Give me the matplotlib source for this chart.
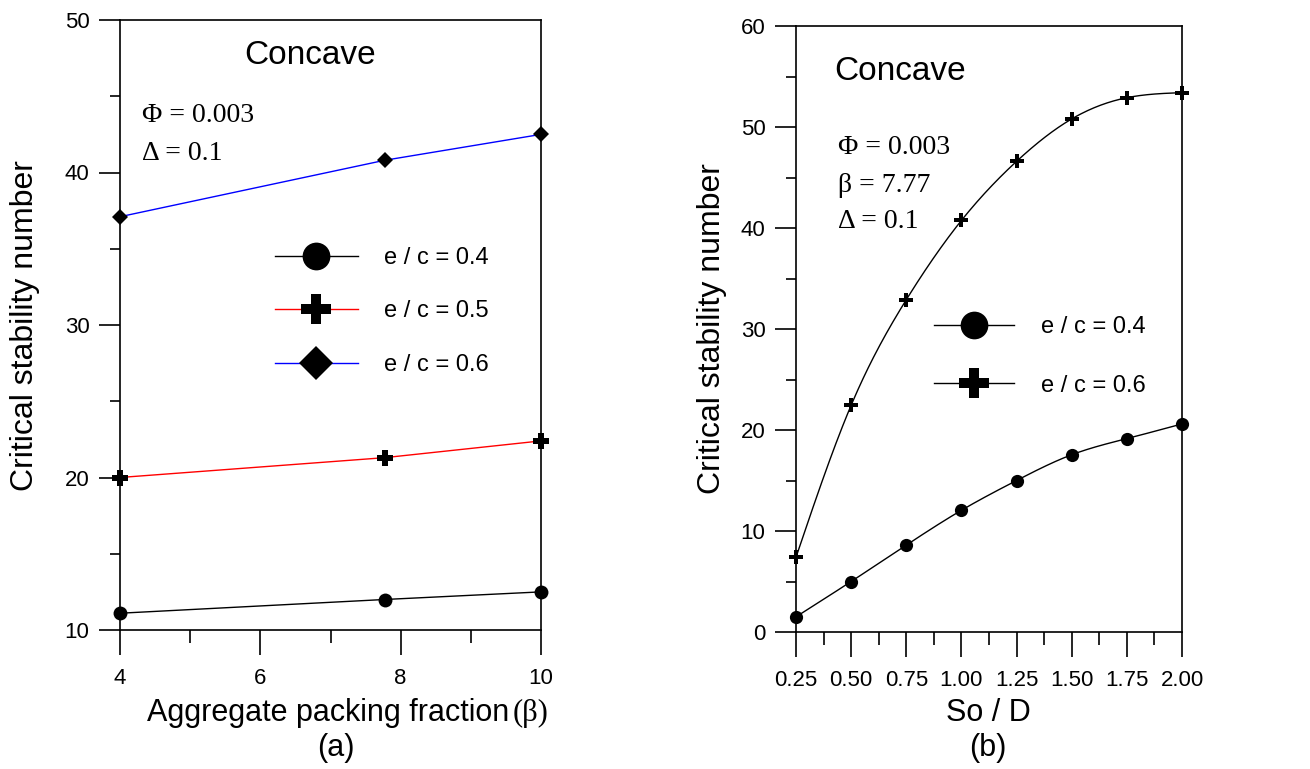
import numpy as np
import matplotlib
matplotlib.use('Agg')
import matplotlib.pyplot as plt
from matplotlib.ticker import MultipleLocator, FormatStrFormatter
from matplotlib.legend_handler import HandlerTuple

# ---------------- data ----------------
beta = [4, 7.77, 10]
left_ec04 = [11.1, 12.0, 12.5]
left_ec05 = [20.0, 21.3, 22.4]
left_ec06 = [37.1, 40.8, 42.5]
left_labels = ['e / c = 0.4', 'e / c = 0.5', 'e / c = 0.6']

so_d = [0.25, 0.50, 0.75, 1.00, 1.25, 1.50, 1.75, 2.00]
right_ec04 = [1.5, 5.0, 8.6, 12.05, 15.0, 17.55, 19.15, 20.6]
right_ec06 = [7.4, 22.45, 32.9, 40.75, 46.6, 50.8, 52.9, 53.4]
right_labels = ['e / c = 0.4', 'e / c = 0.6']

SANS = ['Liberation Sans', 'DejaVu Sans']
NARROW = ['Liberation Sans Narrow', 'Liberation Sans', 'DejaVu Sans']
SERIF = ['Liberation Serif', 'DejaVu Serif']

W, H = 1310, 769
fig = plt.figure(figsize=(W / 100, H / 100), dpi=100)


def px(x, y):
    return x / W, 1 - y / H


def natural_spline(x, y, n=300):
    x = np.asarray(x, float)
    y = np.asarray(y, float)
    m = len(x)
    h = np.diff(x)
    A = np.zeros((m, m))
    r = np.zeros(m)
    A[0, 0] = A[-1, -1] = 1
    for i in range(1, m - 1):
        A[i, i - 1] = h[i - 1]
        A[i, i] = 2 * (h[i - 1] + h[i])
        A[i, i + 1] = h[i]
        r[i] = 3 * ((y[i + 1] - y[i]) / h[i] - (y[i] - y[i - 1]) / h[i - 1])
    c = np.linalg.solve(A, r)
    b = (y[1:] - y[:-1]) / h - h * (2 * c[:-1] + c[1:]) / 3
    d = (c[1:] - c[:-1]) / (3 * h)
    xs = np.linspace(x[0], x[-1], n)
    idx = np.clip(np.searchsorted(x, xs, side='right') - 1, 0, m - 2)
    dx = xs - x[idx]
    ys = y[idx] + b[idx] * dx + c[idx] * dx ** 2 + d[idx] * dx ** 3
    return xs, ys


def style_axes(ax):
    for s in ax.spines.values():
        s.set_linewidth(1.2)
    ax.tick_params(axis='y', which='major', direction='out', length=15, width=1.2, pad=7)
    ax.tick_params(axis='y', which='minor', direction='out', length=7.5, width=1.2)
    ax.tick_params(axis='x', which='major', direction='out', length=18, width=1.2, pad=9)
    ax.tick_params(axis='x', which='minor', direction='out', length=9, width=1.2)
    for t in ax.get_xticklabels() + ax.get_yticklabels():
        t.set_fontfamily(NARROW)
        t.set_fontsize(16)


# ---------------- left panel ----------------
l0, r0, t0, b0 = 120, 541, 20, 630
axL = fig.add_axes([l0 / W, 1 - b0 / H, (r0 - l0) / W, (b0 - t0) / H])
axL.set_xlim(4, 10)
axL.set_ylim(10, 50)
axL.xaxis.set_major_locator(MultipleLocator(2))
axL.xaxis.set_minor_locator(MultipleLocator(1))
axL.yaxis.set_major_locator(MultipleLocator(10))
axL.yaxis.set_minor_locator(MultipleLocator(5))

handlesL = []
for yv, col, mk, ms in [(left_ec04, 'black', 'o', 10),
                        (left_ec05, 'red', 'P', 11),
                        (left_ec06, 'blue', 'D', 8.5)]:
    ln, = axL.plot(beta, yv, color=col, lw=1.0, zorder=2)
    mkr, = axL.plot(beta, yv, ls='none', marker=mk, color='black', ms=ms,
                    mew=0, clip_on=False, zorder=3)
    handlesL.append((ln, mkr))

legL = axL.legend(handlesL, left_labels, handler_map={tuple: HandlerTuple(ndivide=1)},
                  loc='upper left', bbox_to_anchor=px(275, 247),
                  bbox_transform=fig.transFigure, frameon=False,
                  prop={'family': SANS, 'size': 17}, markerscale=2.0,
                  handlelength=3.5, handletextpad=1.1, labelspacing=1.33,
                  borderpad=0, borderaxespad=0)

style_axes(axL)

fig.text(*px(310, 55), 'Concave', family=SANS, fontsize=24, ha='center', va='center')
fig.text(*px(142, 115), 'Φ = 0.003', family=SERIF, fontsize=20, ha='left', va='center')
fig.text(*px(142, 153), 'Δ = 0.1', family=SERIF, fontsize=20, ha='left', va='center')

fig.text(*px(25, 326), 'Critical stability number', family=SANS, fontsize=23,
         rotation=90, ha='center', va='center')
fig.text(*px(509, 713), 'Aggregate packing fraction', family=SANS, fontsize=22,
         ha='right', va='center')
fig.text(*px(513, 713), '(β)', family=SERIF, fontsize=22, ha='left', va='center')
fig.text(*px(336, 748), '(a)', family=SANS, fontsize=22, ha='center', va='center')

# ---------------- right panel ----------------
l1, r1, t1, b1 = 796, 1182, 26, 632
axR = fig.add_axes([l1 / W, 1 - b1 / H, (r1 - l1) / W, (b1 - t1) / H])
axR.set_xlim(0.25, 2.0)
axR.set_ylim(0, 60)
axR.xaxis.set_major_locator(MultipleLocator(0.25))
axR.xaxis.set_minor_locator(MultipleLocator(0.125))
axR.xaxis.set_major_formatter(FormatStrFormatter('%.2f'))
axR.yaxis.set_major_locator(MultipleLocator(10))
axR.yaxis.set_minor_locator(MultipleLocator(5))

handlesR = []
for yv, mk, ms in [(right_ec04, 'o', 9.5), (right_ec06, 'P', 10.5)]:
    xs, ys = natural_spline(so_d, yv)
    ln, = axR.plot(xs, ys, color='black', lw=1.0, zorder=2)
    mkr, = axR.plot(so_d, yv, ls='none', marker=mk, color='black', ms=ms,
                    mew=0, clip_on=False, zorder=3)
    handlesR.append((ln, mkr))

legR = axR.legend(handlesR, right_labels, handler_map={tuple: HandlerTuple(ndivide=1)},
                  loc='upper left', bbox_to_anchor=px(934, 316),
                  bbox_transform=fig.transFigure, frameon=False,
                  prop={'family': SANS, 'size': 17}, markerscale=2.1,
                  handlelength=3.4, handletextpad=1.15, labelspacing=1.55,
                  borderpad=0, borderaxespad=0)

style_axes(axR)

fig.text(*px(900, 72), 'Concave', family=SANS, fontsize=24, ha='center', va='center')
fig.text(*px(838, 148), 'Φ = 0.003', family=SERIF, fontsize=20, ha='left', va='center')
fig.text(*px(838, 185), 'β = 7.77', family=SERIF, fontsize=20, ha='left', va='center')
fig.text(*px(838, 222), 'Δ = 0.1', family=SERIF, fontsize=20, ha='left', va='center')

fig.text(*px(712, 329), 'Critical stability number', family=SANS, fontsize=23,
         rotation=90, ha='center', va='center')
fig.text(*px(988, 713), 'So / D', family=SANS, fontsize=22, ha='center', va='center')
fig.text(*px(988, 748), '(b)', family=SANS, fontsize=22, ha='center', va='center')

fig.savefig('out.png', dpi=100)
